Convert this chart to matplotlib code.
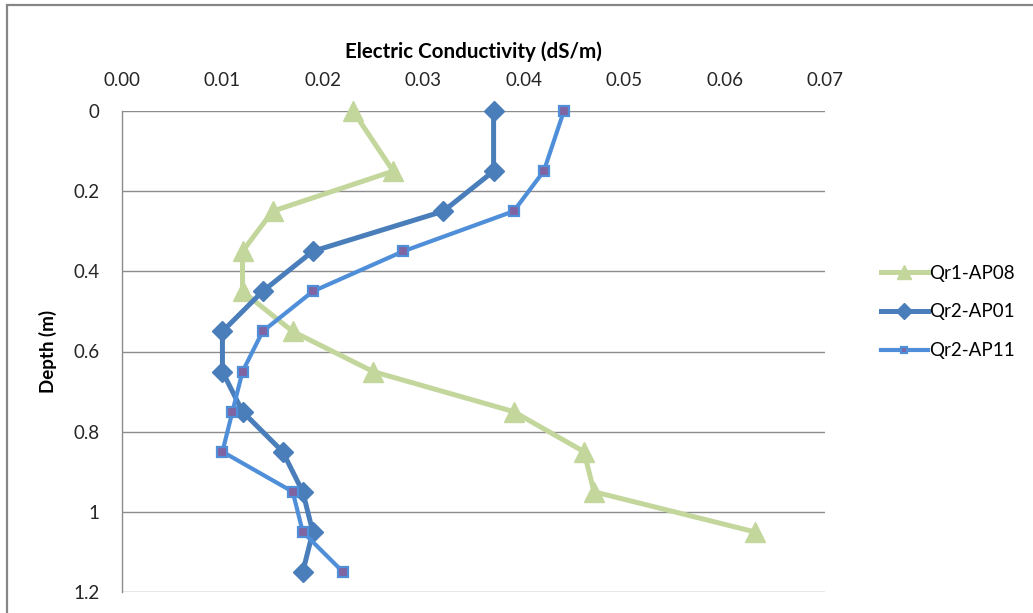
import matplotlib
matplotlib.use("Agg")
import matplotlib.pyplot as plt
from matplotlib.patches import Rectangle

# Data
depth = [0.0, 0.15, 0.25, 0.35, 0.45, 0.55, 0.65, 0.75, 0.85, 0.95, 1.05, 1.15]
qr1_ap08 = [0.023, 0.027, 0.015, 0.012, 0.012, 0.017, 0.025, 0.039, 0.046, 0.047, 0.063]
qr2_ap01 = [0.037, 0.037, 0.032, 0.019, 0.014, 0.010, 0.010, 0.012, 0.016, 0.018, 0.019, 0.018]
qr2_ap11 = [0.044, 0.042, 0.039, 0.028, 0.019, 0.014, 0.012, 0.011, 0.010, 0.017, 0.018, 0.022]
x_ticks = [0.00, 0.01, 0.02, 0.03, 0.04, 0.05, 0.06, 0.07]
y_ticks = [0, 0.2, 0.4, 0.6, 0.8, 1.0, 1.2]
x_labels = ["0.00", "0.01", "0.02", "0.03", "0.04", "0.05", "0.06", "0.07"]
y_labels = ["0", "0.2", "0.4", "0.6", "0.8", "1", "1.2"]

plt.rcParams['font.family'] = ['Lato', 'DejaVu Sans']

W, H = 1033, 613
fig = plt.figure(figsize=(W / 100, H / 100), dpi=100)
fig.patch.set_facecolor('white')

# outer chart frame
fig.patches.append(Rectangle((7 / W, -0.05), 1.2, 1 - 5 / H + 0.05, transform=fig.transFigure,
                             fill=False, edgecolor='#868686', linewidth=1.6))

ax = fig.add_axes([122 / W, 1 - 592 / H, (825 - 122) / W, (592 - 111) / H])
ax.set_xlim(0, 0.07)
ax.set_ylim(1.2, 0)

grid_c = '#8C8C8C'
for y in y_ticks:
    ax.axhline(y, color=grid_c, lw=1.0, zorder=1)

l1, = ax.plot(qr1_ap08, depth[:len(qr1_ap08)], color='#C3D69B', lw=3.6, marker='^',
              markersize=14, markerfacecolor='#C3D69B', markeredgecolor='#C3D69B', zorder=3,
              label='Qr1-AP08', clip_on=False)
l2, = ax.plot(qr2_ap01, depth, color='#4A7EBB', lw=3.6, marker='D',
              markersize=10.5, markerfacecolor='#4A7EBB', markeredgecolor='#4A7EBB', zorder=4,
              label='Qr2-AP01', clip_on=False)
l3, = ax.plot(qr2_ap11, depth, color='#4F8FD9', lw=3.0, marker='s',
              markersize=6.5, markerfacecolor='#8064A2', markeredgecolor='#4F8FD9',
              markeredgewidth=1.6, zorder=5, label='Qr2-AP11', clip_on=False)

for s in ['right', 'bottom', 'top']:
    ax.spines[s].set_visible(False)
ax.spines['left'].set_color(grid_c)
ax.spines['left'].set_linewidth(1.0)

ax.xaxis.set_ticks_position('top')
ax.xaxis.set_label_position('top')
ax.set_xticks(x_ticks)
ax.set_xticklabels(x_labels)
ax.set_yticks(y_ticks)
ax.set_yticklabels(y_labels)
ax.tick_params(axis='both', length=0, labelsize=13.5, labelcolor='#262626')
ax.tick_params(axis='x', pad=16)
ax.tick_params(axis='y', pad=16)

ax.set_xlabel('Electric Conductivity (dS/m)', fontsize=14.8, fontweight='bold', labelpad=10)
ax.set_ylabel('Depth (m)', fontsize=13.5, fontweight='bold', labelpad=12)

fig.legend(handles=[l1, l2, l3], loc='center left', bbox_to_anchor=(864 / W, 1 - 312 / H),
           frameon=False, fontsize=13.5, handlelength=2.5, handletextpad=0.05,
           labelspacing=1.15, markerscale=0.75)

fig.savefig('out.png', dpi=100)
